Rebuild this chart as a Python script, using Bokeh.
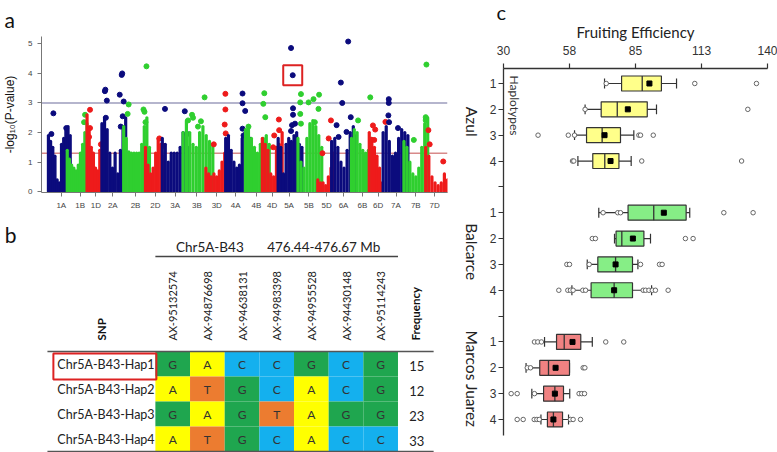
import numpy as np
from bokeh.plotting import figure
from bokeh.models import Range1d, FixedTicker, Span, Label, LinearAxis
from bokeh.layouts import row, column
from bokeh.embed import file_html
from bokeh.resources import INLINE
from bokeh.core.properties import value

# ---------------- Panel a: Manhattan plot data ----------------
chrom_names = ["1A", "1B", "1D", "2A", "2B", "2D", "3A", "3B", "3D", "4A", "4B",
               "4D", "5A", "5B", "5D", "6A", "6B", "6D", "7A", "7B", "7D"]
chrom_tick_pos = [57, 76, 92, 109, 132, 152, 172, 194, 214, 233, 254,
                  270, 287, 307, 325, 342, 361, 377, 395, 415, 434]
chrom_start = [44, 63, 83, 98, 120, 142, 159, 180, 203, 223, 243,
               260, 276, 296, 316, 330, 350, 368, 382, 403, 425]
chrom_end = [66, 83, 98, 122, 146, 160, 186, 210, 222, 248, 267,
             280, 300, 320, 332, 355, 370, 381, 407, 427, 447]
# dense-band heights (-log10 P) read across each chromosome
chrom_band = [
    [1.9, 1.7, 1.5, 1.2, 0.4, 0.3, 1.6, 1.8, 2.1, 2.2, 1.9],
    [1.4, 1.1, 0.9, 0.8, 0.7, 0.9, 1.3, 1.6, 2.0, 2.3],
    [2.6, 2.1, 1.5, 1.3, 0.8, 0.7, 1.4, 1.6],
    [2.3, 2.5, 2.1, 1.3, 0.8, 1.3, 0.6, 1.4, 2.2, 2.5],
    [2.2, 1.8, 1.35, 1.3, 1.3, 1.3, 1.3, 1.6, 2.2, 2.5, 1.5],
    [1.5, 0.9, 0.6, 0.8, 1.3, 1.8, 1.6, 1.2],
    [1.8, 1.6, 1.0, 1.3, 1.3, 1.3, 1.5, 2.0, 1.9, 1.5],
    [2.0, 2.4, 2.0, 1.6, 1.5, 2.0, 2.2, 1.9, 1.7, 1.6],
    [0.8, 0.6, 0.5, 0.6, 0.5, 0.7, 1.0, 1.3],
    [1.8, 1.9, 1.4, 1.0, 0.8, 0.9, 1.8, 2.0, 2.0, 1.8],
    [2.1, 2.2, 1.8, 1.5, 1.3, 1.6, 1.8, 1.9, 1.6],
    [1.8, 1.6, 1.4, 0.6, 0.5, 1.5, 1.6, 2.0],
    [1.8, 1.5, 0.6, 1.6, 1.8, 1.7, 1.9, 2.0, 1.6, 1.5],
    [1.8, 1.0, 0.8, 1.8, 2.3, 2.4, 2.2, 1.9, 1.5],
    [0.4, 0.3, 0.3, 0.2, 0.5, 0.8, 1.3],
    [1.7, 1.8, 1.5, 1.0, 0.8, 1.4, 2.0, 2.2, 1.9],
    [1.8, 2.1, 2.0, 1.6, 1.4, 1.3, 1.4, 1.8],
    [2.0, 1.8, 1.5, 1.2, 0.8, 0.3],
    [2.0, 2.2, 1.7, 1.2, 1.3, 1.8, 2.1, 2.0, 1.9],
    [1.7, 1.5, 1.0, 0.6, 0.5, 0.8, 1.5, 2.3, 2.5],
    [1.5, 1.2, 0.5, 0.3, 0.2, 0.3, 0.6, 0.4],
]
# individual markers standing above the dense band (position, -log10 P)
peak_x = [
    [49, 47, 62], [81, 80], [86, 86, 85, 97],
    [101, 101.5, 103, 102, 118, 118.5, 116, 120, 119, 117],
    [125, 124, 143, 140, 141, 142], [156, 160],
    [161.7, 181.7, 184], [201.7, 189, 190, 185, 198, 195],
    [222.7, 222.7, 222, 223, 211], [240, 240, 242.7, 240, 241],
    [262, 261, 263, 246], [276.7, 277, 272, 271],
    [289, 290.7, 291, 291, 293, 289, 290],
    [299, 298.3, 306.7, 311.7, 317.3, 316.7, 298.3, 299, 313],
    [320.7, 329.3, 327], [346.7, 339.3, 340.7, 349.3, 345, 335, 337],
    [356.7, 369], [371.7, 374, 384.3, 373], [387.7, 387.7, 387.3, 388, 397],
    [425.7, 425, 425, 413], [427.7, 442.7, 429],
]
peak_y = [
    [2.65, 1.95, 2.15], [2.6, 2.35], [2.77, 2.15, 1.85, 1.6],
    [3.40, 3.45, 3.08, 2.5, 3.95, 4.0, 3.28, 3.05, 2.55, 2.2],
    [2.95, 2.63, 4.24, 2.78, 2.7, 2.35], [1.8, 1.55],
    [2.8, 2.72, 1.95], [3.19, 2.6, 2.5, 2.41, 2.38, 2.2],
    [3.31, 2.78, 2.27, 1.97, 1.6], [3.32, 2.99, 2.73, 2.13, 1.9],
    [3.33, 2.97, 2.52, 2.2], [2.44, 2.08, 1.9, 1.5],
    [4.86, 3.94, 2.82, 2.6, 2.3, 2.05, 2.25],
    [3.3, 3.02, 3.02, 3.13, 3.28, 2.8, 2.63, 2.3, 2.35],
    [1.3, 2.41, 1.8], [5.08, 3.69, 3.0, 2.52, 2.02, 2.25, 1.85],
    [2.41, 3.19], [2.24, 2.1, 2.36, 1.75], [3.13, 3.0, 2.58, 2.35, 2.15],
    [4.3, 2.52, 2.42, 1.75], [2.08, 1.02, 1.6],
]
highlight_chrom = 12   # 5A
highlight_index = 1    # the 3.94 marker
thresholds = [3.0, 1.3]
y_ticks_a = [0, 1, 2, 3, 4, 5]

# ---------------- Panel b: haplotype table data ----------------
snp_ids = ["AX-95132574", "AX-94876698", "AX-94638131", "AX-94983398",
           "AX-94955528", "AX-94430148", "AX-95114243"]
hap_names = ["Chr5A-B43-Hap1", "Chr5A-B43-Hap2", "Chr5A-B43-Hap3", "Chr5A-B43-Hap4"]
hap_alleles = [
    ["G", "A", "C", "C", "G", "C", "G"],
    ["A", "T", "G", "C", "A", "C", "G"],
    ["G", "A", "G", "T", "A", "G", "G"],
    ["A", "T", "G", "C", "A", "C", "C"],
]
hap_freq = [15, 12, 23, 33]
block_name = "Chr5A-B43"
block_range = "476.44-476.67 Mb"

# ---------------- Panel c: boxplot data ----------------
env_names = ["Azul", "Balcarce", "Marcos Juarez"]
hap_labels = ["1", "2", "3", "4"]
whisk_lo = [[72.1, 64.0, 59.6, 61.0], [69.7, 76.25, 64.9, 58.5], [47.1, 39.4, 41.8, 45.6]]
q1 = [[79.2, 70.7, 64.6, 67.2], [81.9, 76.9, 69.3, 66.5], [52.1, 45.1, 46.7, 48.3]]
median = [[87.8, 77.4, 71.1, 72.2], [92.6, 79.3, 76.7, 76.1], [55.3, 48.75, 51.4, 50.8]]
mean = [[90.8, 81.8, 72.1, 74.6], [96.8, 83.9, 76.7, 76.1], [58.75, 51.7, 51.4, 50.8]]
q3 = [[95.8, 89.9, 78.75, 78.1], [106.1, 88.5, 83.75, 83.75], [62.2, 57.5, 55.0, 54.6]]
whisk_hi = [[102.1, 93.75, 84.3, 83.2], [107.6, 91.25, 86.0, 91.7], [67.0, 57.5, 57.6, 57.1]]
outliers = [
    [[72.8, 109.7, 135.4], [64.0, 131.8], [44.4, 57.0, 59.6, 86.4, 87.1, 92.4],
     [58.75, 59.3, 87.6, 129.2]],
    [[71.5, 77.6, 78.75, 121.8, 134.0], [67.0, 68.3, 105.8, 109.0],
     [56.4, 57.5, 65.7, 87.1, 95.0, 96.1],
     [53.05, 56.8, 57.9, 59.0, 63.05, 64.2, 88.2, 89.2, 90.6, 92.0, 93.3, 98.6]],
    [[42.9, 44.3, 45.8, 72.6, 80.1], [39.9, 41.25, 63.2, 63.9],
     [33.2, 35.7, 42.9, 61.5, 62.6, 63.75],
     [35.7, 38.2, 42.8, 43.9, 44.9, 57.9, 59.0, 62.1]],
]
x_ticks_c = [30, 57.5, 85, 112.5, 140]
x_tick_labels_c = ["30", "58", "85", "113", "140"]

LATO = "Lato"
ARIAL = "Liberation Sans"
LEFT_W = 449

# ================= Panel a figure =================
man_colors = ["#0b0b7d", "#2fcf2f", "#ee1b1b"]
pa = figure(width=LEFT_W, height=218, x_range=Range1d(37, 447), y_range=Range1d(-0.03, 5.25),
            min_border_left=37, min_border_right=LEFT_W - 447, min_border_top=34,
            min_border_bottom=26, title="a", toolbar_location=None, output_backend="svg")
pa.title.align = "left"
pa.title.offset = -37
pa.title.standoff = 9
pa.title.text_font = LATO
pa.title.text_font_size = "21px"
pa.title.text_font_style = "normal"
pa.title.text_color = "#111111"
pa.grid.visible = False
pa.outline_line_color = None
for yv, col in zip(thresholds, ["#9d9dbd", "#d88a8a"]):
    pa.add_layout(Span(location=yv, dimension="width", line_color=col, line_width=1.5,
                       level="underlay"))
for i in range(len(chrom_names)):
    col = man_colors[i % 3]
    h = np.array(chrom_band[i])
    xs = np.linspace(chrom_start[i], chrom_end[i], len(h))
    pa.segment(x0=xs, y0=np.zeros_like(h), x1=xs, y1=h, line_color=col, line_width=3.2,
               line_cap="round")
    pa.scatter(x=peak_x[i], y=peak_y[i], size=5, color=col)
hx = peak_x[highlight_chrom][highlight_index]
hy = peak_y[highlight_chrom][highlight_index]
pa.rect(x=[hx], y=[hy], width=19, height=20, width_units="screen", height_units="screen",
        fill_alpha=0, line_color="#dd2222", line_width=2)

pa.xaxis.ticker = FixedTicker(ticks=chrom_tick_pos)
pa.xaxis.major_label_overrides = {t: n for t, n in zip(chrom_tick_pos, chrom_names)}
pa.yaxis.ticker = FixedTicker(ticks=y_ticks_a)
for ax in (pa.xaxis, pa.yaxis):
    ax.axis_line_color = "#777777"
    ax.major_tick_line_color = "#777777"
    ax.major_tick_out = 4
    ax.major_tick_in = 0
    ax.minor_tick_line_color = None
    ax.major_label_text_font = ARIAL
    ax.major_label_text_font_size = "8px"
    ax.major_label_text_color = "#444444"
pa.xaxis.major_label_standoff = 4
pa.yaxis.major_label_standoff = 5
pa.yaxis.axis_label = "-log\u2081\u2080(P-value)"
pa.yaxis.axis_label_text_font = ARIAL
pa.yaxis.axis_label_text_font_size = "12px"
pa.yaxis.axis_label_text_font_style = "normal"
pa.yaxis.axis_label_text_color = "#111111"
pa.yaxis.axis_label_standoff = 8

# ================= Panel b figure =================
allele_colors = {"G": "#1fa64f", "A": "#ffff00", "C": "#14b0ee", "T": "#ec7c30"}
pb = figure(width=LEFT_W, height=234, x_range=Range1d(37, 447), y_range=Range1d(452, 218),
            x_axis_location=None, min_border_left=37, min_border_right=LEFT_W - 447,
            min_border_top=0, min_border_bottom=0,
            toolbar_location=None, output_backend="svg")
pb.grid.visible = False
pb.outline_line_color = None
# panel letter carried by the (otherwise invisible) left axis
pb.yaxis.ticker = FixedTicker(ticks=[234])
pb.yaxis.major_label_overrides = {234: "b"}
pb.yaxis.axis_line_color = None
pb.yaxis.major_tick_line_color = None
pb.yaxis.minor_tick_line_color = None
pb.yaxis.major_tick_out = 0
pb.yaxis.major_label_standoff = 25
pb.yaxis.major_label_text_font = LATO
pb.yaxis.major_label_text_font_size = "21px"
pb.yaxis.major_label_text_color = "#111111"

cell_x0, cell_w, row_y0, row_h = 152, 35, 351, 25
label_x, freq_x, lab_base = 53, 416, 340
ncol = len(snp_ids)
col_cx = [cell_x0 + cell_w * (j + 0.5) for j in range(ncol)]
row_cy = [row_y0 + row_h * (i + 0.5) for i in range(len(hap_names))]

pb.text(x=[207, 322], y=[246, 246], text=[block_name, block_range], text_align="center",
        text_baseline="middle", text_font=value(LATO), text_font_size="13.5px",
        text_color="#222222")
pb.segment(x0=[cell_x0], y0=[256], x1=[cell_x0 + cell_w * ncol], y1=[256],
           line_color="#444444", line_width=1.5)
pb.text(x=col_cx, y=[lab_base] * ncol, text=snp_ids, angle=np.pi / 2, text_align="left",
        text_baseline="middle", text_font=value(LATO), text_font_size="11px",
        text_color="#222222")
pb.text(x=[98, 415], y=[lab_base, lab_base], text=["SNP", "Frequency"], angle=np.pi / 2,
        text_align="left", text_baseline="middle", text_font=value(LATO),
        text_font_size="11.5px", text_font_style="bold", text_color="#111111")
cx, cy, cc, ct = [], [], [], []
for i, alle in enumerate(hap_alleles):
    for j, a in enumerate(alle):
        cx.append(col_cx[j]); cy.append(row_cy[i]); cc.append(allele_colors[a]); ct.append(a)
pb.rect(x=cx, y=cy, width=cell_w, height=row_h, fill_color=cc, line_color=None)
pb.text(x=cx, y=cy, text=ct, text_align="center", text_baseline="middle",
        text_font=value(LATO), text_font_size="12px", text_color="#333333")
pb.text(x=[label_x] * 4, y=row_cy, text=hap_names, text_align="left", text_baseline="middle",
        text_font=value(LATO), text_font_size="12.5px", text_color="#222222")
pb.text(x=[freq_x] * 4, y=[c + 2 for c in row_cy], text=[str(f) for f in hap_freq],
        text_align="center", text_baseline="middle", text_font=value(LATO),
        text_font_size="13px", text_color="#222222")
tbl_bottom = row_y0 + row_h * len(hap_names)
pb.segment(x0=[43, 43], y0=[row_y0, tbl_bottom], x1=[433, 433], y1=[row_y0, tbl_bottom],
           line_color="#555555", line_width=1.6)
pb.rect(x=[(label_x - 4 + cell_x0 + 1) / 2], y=[row_cy[0] + 2.5],
        width=cell_x0 + 1 - (label_x - 4), height=row_h + 1, fill_alpha=0,
        line_color="#dd2222", line_width=2)

# ================= Panel c figure =================
env_colors = ["#ffff8a", "#86ee86", "#f08282"]
PC_W = 777 - LEFT_W
PC_TOP, PC_BOTTOM = 68, 17
Y_LO, Y_HI = -0.58, 13.62
pc = figure(width=PC_W, height=452, x_range=Range1d(30, 140), y_range=Range1d(Y_HI, Y_LO),
            x_axis_location="above", min_border_left=503 - LEFT_W, min_border_right=10,
            min_border_top=PC_TOP, min_border_bottom=PC_BOTTOM, title="c",
            toolbar_location=None, output_backend="svg")
pc.title.align = "left"
pc.title.offset = -7
pc.title.standoff = -8
pc.title.text_font = LATO
pc.title.text_font_size = "20px"
pc.title.text_font_style = "normal"
pc.title.text_color = "#111111"
pc.grid.visible = False
pc.outline_line_color = None
slot, wl, b1, md, mn, b3, wh, fc = [], [], [], [], [], [], [], []
ox, oy = [], []
for g in range(3):
    for h in range(4):
        s = g * 5 + h
        slot.append(s); wl.append(whisk_lo[g][h]); b1.append(q1[g][h]); md.append(median[g][h])
        mn.append(mean[g][h]); b3.append(q3[g][h]); wh.append(whisk_hi[g][h])
        fc.append(env_colors[g])
        for o in outliers[g][h]:
            ox.append(o); oy.append(s)
slot = np.array(slot, dtype=float)
bc = "#333333"
pc.segment(x0=wl, y0=slot, x1=b1, y1=slot, line_color=bc, line_width=1.2)
pc.segment(x0=b3, y0=slot, x1=wh, y1=slot, line_color=bc, line_width=1.2)
pc.segment(x0=wl, y0=slot - 0.19, x1=wl, y1=slot + 0.19, line_color=bc, line_width=1.2)
pc.segment(x0=wh, y0=slot - 0.19, x1=wh, y1=slot + 0.19, line_color=bc, line_width=1.2)
pc.hbar(y=slot, left=b1, right=b3, height=0.58, fill_color=fc, line_color=bc, line_width=1.2)
pc.segment(x0=md, y0=slot - 0.29, x1=md, y1=slot + 0.29, line_color=bc, line_width=1.3)
pc.scatter(x=mn, y=slot, marker="square", size=5, color="#000000")
pc.scatter(x=ox, y=oy, marker="circle", size=4.5, fill_color="white", line_color="#666666",
           line_width=1)

pc.xaxis.ticker = FixedTicker(ticks=x_ticks_c)
pc.xaxis.major_label_overrides = {t: l for t, l in zip(x_ticks_c, x_tick_labels_c)}
pc.xaxis.axis_label = "Fruiting Efficiency"
pc.xaxis.axis_label_text_font = LATO
pc.xaxis.axis_label_text_font_size = "15px"
pc.xaxis.axis_label_text_font_style = "normal"
pc.xaxis.axis_label_text_color = "#222222"
pc.xaxis.axis_label_standoff = 2
pc.xaxis.major_label_standoff = 9
all_slots = list(range(14))
ytick_over = {}
for s in all_slots:
    g, h = divmod(s, 5)
    ytick_over[s] = hap_labels[h] if h < 4 else ""
pc.yaxis.ticker = FixedTicker(ticks=all_slots)
pc.yaxis.major_label_overrides = ytick_over
pc.yaxis.major_label_standoff = 2
for ax in (pc.xaxis, pc.yaxis):
    ax.axis_line_color = "#333333"
    ax.axis_line_width = 1.3
    ax.major_tick_line_color = "#333333"
    ax.major_tick_line_width = 1.2
    ax.major_tick_out = 5
    ax.major_tick_in = 0
    ax.minor_tick_line_color = None
    ax.major_label_text_font = ARIAL
    ax.major_label_text_font_size = "12px"
    ax.major_label_text_color = "#333333"
# environment names on an outer left axis; rotated labels end at their tick,
# so each tick is moved down by half of the label's estimated length
slot_px = (452 - PC_TOP - PC_BOTTOM) / (Y_HI - Y_LO)
char_px = 7.2
env_center = [g * 5 + 1.5 for g in range(len(env_names))]
env_pos = [c + 0.5 * len(n) * char_px / slot_px for c, n in zip(env_center, env_names)]
env_axis = LinearAxis(ticker=FixedTicker(ticks=env_pos),
                      major_label_overrides={p: n for p, n in zip(env_pos, env_names)})
env_axis.axis_line_color = None
env_axis.major_tick_line_color = None
env_axis.minor_tick_line_color = None
env_axis.major_tick_out = 0
env_axis.major_tick_in = 0
env_axis.major_label_orientation = -np.pi / 2
env_axis.major_label_standoff = 15
env_axis.major_label_text_font = LATO
env_axis.major_label_text_font_size = "15.5px"
env_axis.major_label_text_color = "#222222"
pc.add_layout(env_axis, "left")
pc.add_layout(Label(x=34.7, y=0.85, text="Haplotypes", angle=-np.pi / 2, text_align="center",
                    text_baseline="middle", text_font=LATO, text_font_size="12px",
                    text_color="#333333"))

layout = row(column(pa, pb), pc)
open("out.html", "w").write(file_html(layout, INLINE))
